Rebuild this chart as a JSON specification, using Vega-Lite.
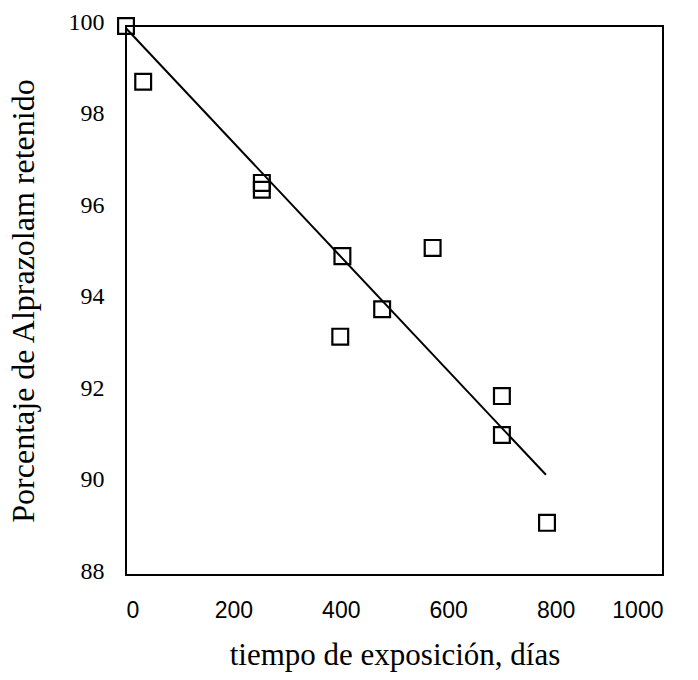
{
  "$schema": "https://vega.github.io/schema/vega-lite/v6.json",
  "autosize": "none",
  "width": 537,
  "height": 549,
  "padding": {"left": 126, "top": 26, "right": 35, "bottom": 105},
  "background": "white",
  "config": {
    "view": {"stroke": "black", "strokeWidth": 2},
    "axis": {"grid": false, "ticks": false, "domain": false, "labelColor": "black", "titleColor": "black", "titleFontWeight": "normal"}
  },
  "datasets": {
    "pts": [
      {"dias": 0, "pct": 100.0},
      {"dias": 32, "pct": 98.78},
      {"dias": 253, "pct": 96.57},
      {"dias": 253, "pct": 96.42},
      {"dias": 403, "pct": 94.97},
      {"dias": 571, "pct": 95.15},
      {"dias": 477, "pct": 93.81},
      {"dias": 399, "pct": 93.21},
      {"dias": 700, "pct": 91.91},
      {"dias": 700, "pct": 91.06},
      {"dias": 784, "pct": 89.14}
    ],
    "fit": [
      {"dias": 0, "pct": 99.95},
      {"dias": 782, "pct": 90.19}
    ]
  },
  "layer": [
    {
      "data": {"name": "fit"},
      "mark": {"type": "line", "color": "black", "strokeWidth": 2},
      "encoding": {
        "x": {"field": "dias", "type": "quantitative"},
        "y": {"field": "pct", "type": "quantitative"}
      }
    },
    {
      "data": {"name": "pts"},
      "mark": {"type": "point", "shape": "square", "filled": false, "color": "black", "opacity": 1, "strokeWidth": 2.2, "size": 250},
      "encoding": {
        "x": {
          "field": "dias", "type": "quantitative",
          "scale": {"domain": [0, 1000], "nice": false, "zero": false},
          "axis": {"values": [0, 200, 400, 600, 800, 1000], "format": "d", "title": "tiempo de exposición, días", "labelFont": "Liberation Sans", "labelFontSize": 23, "labelPadding": 24, "titleFont": "Liberation Serif", "titleFontSize": 31, "titlePadding": 18}
        },
        "y": {
          "field": "pct", "type": "quantitative",
          "scale": {"domain": [88, 100], "nice": false, "zero": false},
          "axis": {"values": [88, 90, 92, 94, 96, 98, 100], "format": "d", "title": "Porcentaje de Alprazolam retenido", "labelFont": "Liberation Serif", "labelFontSize": 24, "labelPadding": 22, "labelOffset": -4, "titleFont": "Liberation Serif", "titleFontSize": 32, "titlePadding": 28}
        }
      }
    }
  ]
}
